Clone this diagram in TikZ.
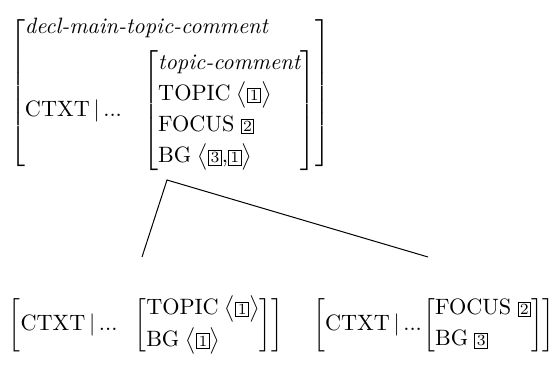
\documentclass[tikz,border=0pt]{standalone}
\usepackage{amsmath}
\newcommand{\tagbox}[1]{{\setlength{\fboxsep}{0.7pt}\setlength{\fboxrule}{0.4pt}\fbox{\scriptsize #1}}}
\newcommand{\attr}[1]{\mathrm{#1}}
\newcommand{\ctxt}{\attr{CTXT}\,|\,\mathrm{...}}
\begin{document}
\begin{tikzpicture}[x=0.45pt,y=-0.45pt,
  avm/.style={inner sep=0pt, outer sep=0pt},
  branch/.style={line width=0.45pt}]
\useasboundingbox (0,0) rectangle (557,366);
\node[avm] (top) at (170,93) {$\left[\begin{array}{@{}l@{}}
  \textit{decl-main-topic-comment}\\[4pt]
  \ctxt\hspace{8pt}\left[\begin{array}{@{}l@{}}
    \textit{topic-comment}\\[2pt]
    \attr{TOPIC}\;\bigl\langle\tagbox{1}\bigr\rangle\\[2pt]
    \attr{FOCUS}\;\tagbox{2}\\[2pt]
    \attr{BG}\;\bigl\langle\tagbox{3}{,}\tagbox{1}\bigr\rangle
  \end{array}\right]
\end{array}\right]$};
\node[avm] (left) at (146,325) {$\left[\begin{array}{@{}l@{}}
  \ctxt\hspace{6pt}\left[\begin{array}{@{}l@{}}
    \attr{TOPIC}\;\bigl\langle\tagbox{1}\bigr\rangle\\[2pt]
    \attr{BG}\;\bigl\langle\tagbox{1}\bigr\rangle
  \end{array}\right]
\end{array}\right]$};
\node[avm] (right) at (434,325) {$\left[\begin{array}{@{}l@{}}
  \ctxt\hspace{-1pt}\left[\begin{array}{@{}l@{}}
    \attr{FOCUS}\;\tagbox{2}\\[2pt]
    \attr{BG}\;\tagbox{3}
  \end{array}\right]
\end{array}\right]$};
\coordinate (apex) at (167,180);
\coordinate (lend) at (142,257);
\coordinate (rend) at (428,257);
\draw[branch] (lend) -- (apex) -- (rend);
\end{tikzpicture}
\end{document}
